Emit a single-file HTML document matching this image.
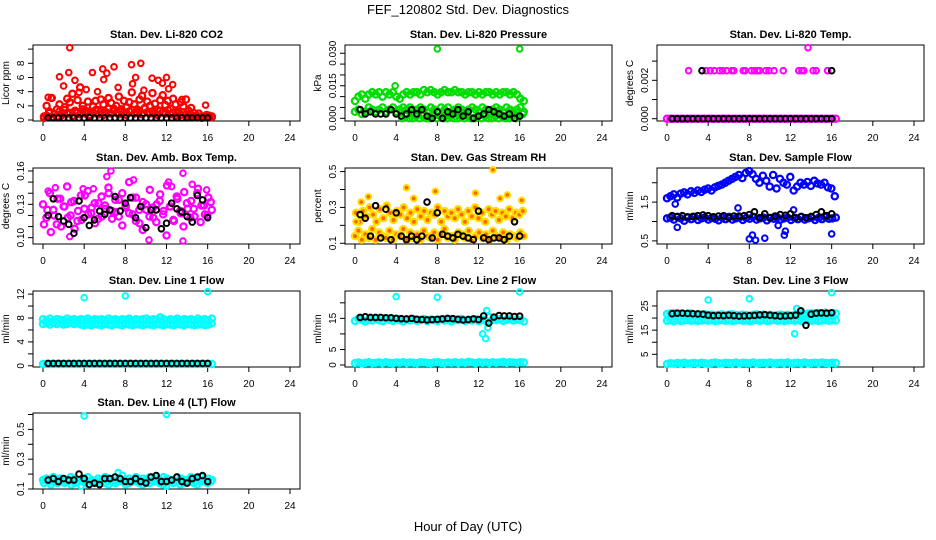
<!DOCTYPE html>
<html><head><meta charset="utf-8"><style>
body{margin:0;background:#fff;}
svg{display:block;font-family:"Liberation Sans",Arial,sans-serif;}
</style></head><body>
<svg id="chart" width="936" height="540" viewBox="0 0 936 540">
<text x="468" y="14" text-anchor="middle" font-size="13">FEF_120802  Std. Dev. Diagnostics</text>
<text x="468" y="531" text-anchor="middle" font-size="13">Hour of Day (UTC)</text>
</svg>
<script>
const xTicks = [0,4,8,12,16,20,24];

const co2Red = [0.5,2.0,1.2,3.1,0.8,1.5,2.2,0.9,1.8,3.0,2.5,3.7,1.1,2.8,4.6,2.0,1.3,2.6,0.7,1.9,2.7,1.4,2.9,2.2,1.0,3.1,2.4,1.6,2.0,3.3,1.2,2.7,1.8,2.5,3.9,2.2,1.5,2.9,3.4,1.7,2.6,2.0,3.8,2.3,1.4,2.8,3.5,2.1,2.7,1.6,3.0,2.2,1.2,2.5,1.9,2.9,1.3,1.7,1.0,0.6,0.9,0.5,0.4,0.7,0.6,0.5];
const co2Red2 = [0.3,0.6,1.0,0.4,0.8,0.5,1.2,0.7,1.4,0.9,1.0,0.6,1.3,1.1,0.8,1.5,0.9,1.2,0.6,1.0,1.4,0.8,1.2,0.7,1.1,1.6,0.9,1.3,1.0,0.8,1.5,1.1,0.7,1.2,1.4,0.9,1.0,1.3,0.8,1.6,1.1,0.9,1.2,1.0,0.7,1.3,1.1,0.9,1.4,0.8,1.0,0.6,0.9,0.7,1.1,0.8,0.5,0.7,0.4,0.6,0.5,0.3,0.4,0.6,0.5,0.4];
const co2OutT = [2.6,1.6,2.5,3.1,4.8,5.8,5.9,6.2,6.9,8.6,9.5,9.0,10.6,11.2,12.0,12.6,15.8,7.3,9.8,2.0,3.5,4.2,5.3,8.7,11.6,13.5,0.5,0.8,12.2];
const co2OutV = [10.2,6.1,6.7,5.6,6.7,7.2,5.7,6.6,7.5,7.8,8.0,6.0,5.9,5.6,6.0,5.0,2.1,4.6,4.2,4.8,3.9,4.3,4.0,5.1,5.2,2.9,3.2,3.1,4.4];
const co2Black = [0.3,0.3,0.3,0.3,0.3,0.3,0.3,0.3,0.35,0.3,0.3,0.3,0.3,0.3,0.3,0.3,0.3,0.3,0.3,0.3,0.3,0.3,0.3,0.3,0.3,0.3,0.3,0.3,0.3,0.3,0.3,0.3];

const presUp = [0.008,0.010,0.011,0.009,0.011,0.012,0.011,0.012,0.010,0.012,0.011,0.012,0.010,0.009,0.011,0.012,0.011,0.012,0.012,0.011,0.013,0.012,0.013,0.012,0.011,0.012,0.013,0.012,0.012,0.013,0.012,0.012,0.011,0.012,0.012,0.011,0.012,0.011,0.012,0.012,0.011,0.012,0.011,0.012,0.012,0.011,0.012,0.011,0.009,0.008];
const presMid = [0.003,0.004,0.002,0.003,0.005,0.004,0.003,0.004,0.005,0.003,0.004,0.005,0.003,0.004,0.005,0.004,0.005,0.003,0.004,0.005,0.004,0.003,0.005,0.004,0.003,0.005,0.004,0.005,0.003,0.004,0.005,0.004,0.003,0.004,0.005,0.004,0.003,0.005,0.004,0.003,0.004,0.005,0.004,0.003,0.005,0.004,0.003,0.004,0.005,0.003];
const presLow = [0.000,0.001,0.000,0.000,0.001,0.000,0.001,0.000,0.000,0.001,0.000,0.001,0.000,0.000,0.001,0.000,0.000,0.001,0.000,0.001,0.000,0.000,0.001,0.000,0.001,0.000,0.000,0.001,0.000,0.001,0.000,0.000,0.001,0.000,0.001,0.002];
const presOutT = [8.0,16.0,3.9];
const presOutV = [0.032,0.032,0.015];
const presBlack = [0.004,0.002,0.003,0.002,0.002,0.002,0.004,0.002,0.001,0.002,0.004,0.002,0.004,0.001,0.000,0.003,0.000,0.003,0.002,0.004,0.001,0.003,0.000,0.001,0.002,0.004,0.003,0.002,0.001,0.002,0.000,0.001];

const tempZero = [0,0,0,0,0,0,0,0,0,0,0,0,0,0,0,0,0,0,0,0,0,0,0,0,0,0,0,0,0,0,0,0,0,0,0,0,0,0,0,0,0,0,0,0,0,0,0,0,0,0];
const tempHiT = [2.1,3.8,4.2,4.6,5.1,5.4,5.8,6.3,6.5,7.4,7.6,8.2,8.5,8.8,9.0,9.6,9.9,10.4,11.3,12.8,13.1,13.3,14.2,14.5,15.6,13.7];
const tempHiV = [0.0025,0.0025,0.0025,0.0025,0.0025,0.0025,0.0025,0.0025,0.0025,0.0025,0.0025,0.0025,0.0025,0.0025,0.0025,0.0025,0.0025,0.0025,0.0025,0.0025,0.0025,0.0025,0.0025,0.0025,0.0025,0.0037];
const tempBlack = [0,0,0,0,0,0,0,0,0,0,0,0,0,0,0,0,0,0,0,0,0,0,0,0,0,0,0,0,0,0,0,0];
const tempBlackHiT = [3.4,16.0];
const tempBlackHiV = [0.0025,0.0025];

const ambA = [0.130,0.118,0.140,0.125,0.112,0.135,0.128,0.146,0.120,0.133,0.115,0.138,0.126,0.142,0.122,0.131,0.117,0.137,0.129,0.145,0.124,0.134,0.119,0.140,0.127,0.150,0.121,0.136,0.113,0.132,0.125,0.143,0.118,0.130,0.139,0.124,0.147,0.128,0.115,0.135,0.122,0.141,0.126,0.133,0.119,0.144,0.129,0.121,0.136,0.125];
const ambB = [0.112,0.125,0.105,0.120,0.135,0.110,0.128,0.118,0.132,0.108,0.124,0.116,0.138,0.121,0.127,0.113,0.131,0.119,0.126,0.140,0.117,0.123,0.134,0.111,0.129,0.122,0.136,0.115,0.125,0.107,0.130,0.119,0.127,0.114,0.133,0.121,0.102,0.128,0.116,0.137,0.124,0.110,0.131,0.118,0.126,0.140,0.114,0.129,0.120,0.132];
const ambOutT = [0.5,1.2,2.6,6.2,6.6,8.8,10.3,12.2,13.6,13.6,14.5,15.9,12.5,3.9,4.9];
const ambOutV = [0.142,0.145,0.101,0.155,0.160,0.152,0.098,0.150,0.158,0.097,0.148,0.143,0.146,0.144,0.144];
const ambBlack = [0.120,0.135,0.119,0.115,0.112,0.104,0.133,0.118,0.111,0.116,0.124,0.121,0.125,0.137,0.124,0.131,0.136,0.118,0.128,0.109,0.125,0.125,0.108,0.113,0.131,0.126,0.123,0.119,0.114,0.138,0.134,0.118];

const rhUp = [0.27,0.22,0.28,0.25,0.30,0.26,0.22,0.29,0.24,0.31,0.27,0.23,0.28,0.26,0.30,0.24,0.27,0.22,0.29,0.25,0.28,0.23,0.27,0.26,0.30,0.22,0.28,0.25,0.27,0.24,0.29,0.26,0.22,0.28,0.25,0.30,0.24,0.27,0.22,0.29,0.26,0.28,0.23,0.27,0.25,0.29,0.24,0.27,0.26,0.28];
const rhLow = [0.14,0.17,0.12,0.15,0.13,0.18,0.12,0.16,0.14,0.13,0.17,0.12,0.15,0.14,0.18,0.12,0.16,0.13,0.15,0.12,0.17,0.14,0.13,0.16,0.12,0.15,0.18,0.13,0.14,0.12,0.16,0.15,0.13,0.17,0.12,0.14,0.16,0.13,0.15,0.12,0.17,0.14,0.13,0.16,0.12,0.15,0.14,0.13,0.16,0.14];
const rhOutT = [0.1,0.6,1.3,5.0,5.7,7.8,13.4,14.8,16.2,11.7,14.1];
const rhOutV = [0.22,0.33,0.36,0.41,0.35,0.39,0.51,0.37,0.34,0.38,0.35];
const rhBlack = [0.26,0.24,0.14,0.31,0.13,0.29,0.12,0.27,0.14,0.12,0.14,0.12,0.14,0.33,0.13,0.27,0.15,0.14,0.13,0.15,0.14,0.13,0.12,0.28,0.13,0.12,0.13,0.13,0.12,0.14,0.22,0.14];

const sfUp = [1.60,1.65,1.70,1.62,1.72,1.75,1.70,1.78,1.74,1.80,1.76,1.82,1.85,1.80,1.88,1.92,1.95,2.00,2.05,2.10,2.15,2.20,2.12,2.25,2.30,2.22,2.10,2.00,2.18,2.05,1.90,2.20,1.85,2.10,2.00,1.95,2.15,1.80,1.90,2.00,1.95,2.02,1.92,2.05,1.98,1.95,2.00,1.88,1.85,1.65];
const sfLow = [1.08,1.10,1.05,1.12,1.08,1.02,1.10,1.06,1.12,1.04,1.08,1.10,1.05,1.09,1.07,1.03,1.10,1.06,1.12,1.05,1.08,1.10,1.04,1.09,1.07,1.12,1.05,1.08,1.10,1.03,1.09,1.07,1.11,1.05,1.08,1.10,1.04,1.09,1.06,1.12,1.05,1.08,1.10,1.04,1.09,1.06,1.11,1.07,1.08,1.10];
const sfOutT = [8.0,8.3,8.6,9.5,11.4,11.5,16.0,1.0,0.8,12.3,10.8,6.9];
const sfOutV = [0.55,0.65,0.52,0.57,0.65,0.75,0.68,0.85,1.45,1.30,0.90,1.35];
const sfBlack = [1.15,1.12,1.15,1.12,1.13,1.15,1.17,1.15,1.12,1.14,1.15,1.10,1.14,1.14,1.15,1.18,1.25,1.10,1.20,1.10,1.14,1.18,1.16,1.20,1.10,1.12,1.10,1.13,1.18,1.25,1.15,1.20];

const l1Up = [7.8,7.6,7.9,7.5,7.8,7.7,7.6,7.9,7.7,7.8,7.6,7.8,7.7,7.9,7.6,7.8,7.7,7.8,7.6,7.9,7.7,7.8,7.6,7.8,7.7,7.9,7.6,7.8,7.7,7.8,7.9,7.6,7.8,7.7,8.1,7.8,7.6,7.8,7.7,7.9,7.6,7.8,7.7,7.8,7.6,7.9,7.7,7.8,7.6,7.9];
const l1Low = [7.0,7.1,6.9,7.2,7.0,7.1,6.9,7.0,7.2,7.0,7.1,6.9,6.8,6.9,6.8,7.0,6.9,6.8,7.0,6.9,6.8,7.0,6.9,6.8,7.0,6.9,6.8,7.0,6.9,6.8,7.0,6.9,6.8,7.0,6.9,6.8,7.0,6.9,6.8,7.0,6.9,6.8,7.0,6.9,6.8,6.9,7.0,6.8,6.9,7.1];
const l1Zero = [0.3,0.3,0.3,0.3,0.3,0.3,0.3,0.3,0.3,0.3,0.3,0.3,0.3,0.3,0.3,0.3,0.3,0.3,0.3,0.3,0.3,0.3,0.3,0.3,0.3,0.3,0.3,0.3,0.3,0.3,0.3,0.3,0.3,0.3,0.3,0.3,0.3,0.3,0.3,0.3,0.3,0.3,0.3,0.3,0.3,0.3,0.3,0.3,0.3,0.3];
const l1OutT = [4.0,8.0,16.0];
const l1OutV = [11.4,11.7,12.4];
const l1Black = [0.4,0.4,0.4,0.4,0.4,0.4,0.4,0.4,0.4,0.4,0.4,0.4,0.4,0.4,0.4,0.4,0.4,0.4,0.4,0.4,0.4,0.4,0.4,0.4,0.4,0.4,0.4,0.4,0.4,0.4,0.4,0.4];

const l2Up = [14.2,14.8,14.5,14.0,14.6,14.3,14.9,14.4,14.1,14.7,14.5,14.2,14.8,14.4,14.0,14.6,14.3,14.7,14.2,14.5,14.8,14.1,14.6,14.4,14.2,14.7,14.3,14.5,14.0,14.6,14.4,14.8,14.2,14.5,14.3,14.7,14.1,14.6,14.2,15.5,14.6,14.4,14.7,14.2,14.5,14.8,14.3,14.6,14.4,14.0];
const l2Zero = [0.6,0.8,0.5,0.7,0.9,0.6,0.7,0.8,0.6,0.9,0.7,0.6,0.8,0.7,0.9,0.6,0.8,0.7,0.6,0.9,0.8,0.7,0.6,0.8,0.9,0.7,0.6,0.8,0.7,0.9,0.6,0.8,0.7,1.0,0.8,0.6,0.9,0.7,0.8,0.6,0.9,0.7,0.8,1.0,0.7,0.9,0.8,0.7,0.9,0.8];
const l2OutT = [4.0,8.0,16.0,12.4,12.7,12.9,13.1,12.8];
const l2OutV = [22.0,21.8,23.5,10.0,8.5,12.0,14.0,17.5];
const l2Black = [15.3,15.5,15.3,15.3,15.3,15.2,15.2,15.0,14.9,14.8,15.0,14.7,14.6,14.5,14.6,14.7,14.8,15.0,14.9,14.7,14.5,14.6,14.8,14.6,15.8,13.5,15.4,15.9,15.8,15.8,15.6,15.7];

const l3Up = [21.7,21.9,22.0,21.6,21.8,21.5,21.7,21.9,21.4,21.6,21.3,21.5,21.2,21.4,21.1,21.3,21.5,21.2,21.4,21.6,21.3,21.1,21.4,21.2,21.0,21.3,21.5,21.2,21.4,21.1,21.3,21.0,21.2,21.4,21.1,21.3,21.0,21.2,21.5,21.7,21.4,21.9,22.0,21.8,22.1,21.9,22.2,21.8,22.0,21.9];
const l3Mid = [18.9,19.1,18.7,19.2,18.8,19.0,19.2,18.9,19.1,18.8,19.0,19.2,18.9,19.1,18.8,19.0,19.2,18.9,19.1,18.8,19.0,19.2,18.9,19.1,18.8,19.0,19.2,18.9,19.1,18.8,19.0,19.2,18.9,19.1,18.8,19.0,19.2,18.9,19.1,18.8,19.0,19.2,18.9,19.1,18.8,19.0,19.2,18.9,19.1,19.0];
const l3Zero = [1.0,1.3,1.1,1.4,1.2,1.5,1.1,1.3,1.4,1.2,1.5,1.3,1.1,1.4,1.6,1.3,1.2,1.5,1.4,1.3,1.6,1.2,1.5,1.4,1.3,1.6,1.2,1.4,1.5,1.3,1.6,1.2,1.4,1.5,1.3,1.6,1.2,1.4,1.5,1.3,1.6,1.2,1.4,1.5,1.3,1.6,1.4,1.3,1.5,1.4];
const l3OutT = [4.0,8.0,16.0,12.4,12.6,12.9];
const l3OutV = [27.5,28.0,30.5,13.5,24.0,22.0];
const l3Black = [21.8,22.0,22.0,21.9,21.8,21.7,21.6,21.2,21.0,21.1,21.0,21.2,21.0,20.8,20.9,21.0,21.1,21.3,21.4,21.2,21.0,20.8,20.9,21.0,21.2,23.0,17.0,21.6,22.0,22.1,22.0,22.2];

const l4Up = [0.16,0.17,0.15,0.18,0.16,0.17,0.15,0.16,0.18,0.17,0.15,0.16,0.17,0.18,0.16,0.15,0.17,0.16,0.18,0.17,0.16,0.15,0.17,0.19,0.16,0.17,0.15,0.18,0.16,0.17,0.16,0.18,0.15,0.17,0.16,0.18,0.17,0.15,0.16,0.18,0.17,0.16,0.15,0.18,0.17,0.16,0.18,0.15,0.17,0.16];
const l4Low = [0.14,0.15,0.13,0.15,0.14,0.16,0.14,0.15,0.13,0.14,0.15,0.16,0.14,0.13,0.15,0.14,0.15,0.16,0.14,0.13,0.15,0.14,0.16,0.15,0.13,0.14,0.16,0.15,0.14,0.13,0.15,0.14,0.16,0.15,0.14,0.13,0.15,0.16,0.14,0.15,0.13,0.14,0.16,0.15,0.14,0.13,0.15,0.16,0.14,0.15];
const l4OutT = [4.0,12.0,3.7,7.3,12.0];
const l4OutV = [0.59,0.60,0.12,0.21,0.12];
const l4Black = [0.16,0.17,0.15,0.17,0.16,0.16,0.20,0.17,0.13,0.14,0.13,0.17,0.17,0.18,0.17,0.15,0.15,0.17,0.15,0.14,0.18,0.19,0.15,0.15,0.16,0.18,0.15,0.14,0.17,0.18,0.19,0.15];

const NS = "http://www.w3.org/2000/svg";
const svg = document.getElementById('chart');
const colL = [33, 345, 657], colW = 267;
const rowT = [45, 168, 291, 413], rowH = 76;

function mk(tag, attrs, parent){
  const e = document.createElementNS(NS, tag);
  for (const k in attrs) e.setAttribute(k, attrs[k]);
  (parent||svg).appendChild(e);
  return e;
}

const panels = [
 {name:'co2', title:'Stan. Dev. Li-820 CO2', ylab:'Licor ppm', c:0, r:0, lo:-0.14, hi:10.58, ticks:[0,2,4,6,8,10], labels:[0,2,4,6,8], fmt:v=>String(v),
  series:[{v:co2Red2,t0:0.1,t1:16.4,col:'#ff0000',band:1},{v:co2Red,t0:0.1,t1:16.4,col:'#ff0000',band:1},{v:co2OutV,t:co2OutT,col:'#ff0000'},{v:co2Black,t0:0.5,t1:16,col:'#000'}]},
 {name:'pressure', title:'Stan. Dev. Li-820 Pressure', ylab:'kPa', c:1, r:0, lo:-0.00125, hi:0.0338, ticks:[0,0.005,0.01,0.015,0.02,0.025,0.03], labels:[0,0.015,0.03], fmt:v=>v.toFixed(3),
  series:[{v:presUp,t0:0,t1:16.4,col:'#00dd00',band:1},{v:presMid,t0:0,t1:16.4,col:'#00dd00',band:1},{v:presLow,t0:4.6,t1:16.3,col:'#00dd00',band:1},{v:presOutV,t:presOutT,col:'#00dd00'},{v:presBlack,t0:0.5,t1:16,col:'#000'}]},
 {name:'li820-temp', title:'Stan. Dev. Li-820 Temp.', ylab:'degrees C', c:2, r:0, lo:-0.00012, hi:0.00384, ticks:[0,0.001,0.002,0.003], labels:[0,0.002], fmt:v=>v.toFixed(3),
  series:[{v:tempZero,t0:0,t1:16.4,col:'#ff00ff',band:1},{v:tempHiV,t:tempHiT,col:'#ff00ff'},{v:tempBlack,t0:0.5,t1:16,col:'#000'},{v:tempBlackHiV,t:tempBlackHiT,col:'#000'}]},
 {name:'amb-box-temp', title:'Stan. Dev. Amb. Box Temp.', ylab:'degrees C', c:0, r:1, lo:0.0943, hi:0.1627, ticks:[0.10,0.11,0.12,0.13,0.14,0.15,0.16], labels:[0.10,0.13,0.16], fmt:v=>v.toFixed(2),
  series:[{v:ambA,t0:0,t1:16.4,col:'#ff00ff',band:1},{v:ambB,t0:0.1,t1:16.3,col:'#ff00ff',band:1},{v:ambOutV,t:ambOutT,col:'#ff00ff'},{v:ambBlack,t0:0.5,t1:16,col:'#000'}]},
 {name:'gas-stream-rh', title:'Stan. Dev. Gas Stream RH', ylab:'percent', c:1, r:1, lo:0.096, hi:0.52, ticks:[0.1,0.2,0.3,0.4,0.5], labels:[0.1,0.3,0.5], fmt:v=>v.toFixed(1), rh:true,
  series:[{v:rhUp,t0:0.1,t1:16.3,col:'#ffdd00',band:1},{v:rhLow,t0:0,t1:16.4,col:'#ffdd00',band:1},{v:rhOutV,t:rhOutT,col:'#ffdd00'},{v:rhBlack,t0:0.5,t1:16,col:'#000'}]},
 {name:'sample-flow', title:'Stan. Dev. Sample Flow', ylab:'ml/min', c:2, r:1, lo:0.42, hi:2.38, ticks:[0.5,1.0,1.5,2.0], labels:[0.5,1.5], fmt:v=>v.toFixed(1),
  series:[{v:sfUp,t0:0,t1:16.3,col:'#0000ff',band:1},{v:sfLow,t0:0,t1:16.4,col:'#0000ff',band:1},{v:sfOutV,t:sfOutT,col:'#0000ff'},{v:sfBlack,t0:0.5,t1:16,col:'#000'}]},
 {name:'line1-flow', title:'Stan. Dev. Line 1 Flow', ylab:'ml/min', c:0, r:2, lo:-0.2, hi:12.52, ticks:[0,2,4,6,8,10,12], labels:[0,4,8,12], fmt:v=>String(v),
  series:[{v:l1Up,t0:0,t1:16.4,col:'#00ffff',band:1},{v:l1Low,t0:0,t1:16.4,col:'#00ffff',band:1},{v:l1Zero,t0:0,t1:16.4,col:'#00ffff',band:1},{v:l1OutV,t:l1OutT,col:'#00ffff'},{v:l1Black,t0:0.5,t1:16,col:'#000'}]},
 {name:'line2-flow', title:'Stan. Dev. Line 2 Flow', ylab:'ml/min', c:1, r:2, lo:-0.64, hi:23.8, ticks:[0,5,10,15,20], labels:[0,5,15], fmt:v=>String(v),
  series:[{v:l2Up,t0:0,t1:16.4,col:'#00ffff',band:1},{v:l2Zero,t0:0,t1:16.4,col:'#00ffff',band:1},{v:l2OutV,t:l2OutT,col:'#00ffff'},{v:l2Black,t0:0.5,t1:16,col:'#000'}]},
 {name:'line3-flow', title:'Stan. Dev. Line 3 Flow', ylab:'ml/min', c:2, r:2, lo:-0.26, hi:31.2, ticks:[5,10,15,20,25], labels:[5,15,25], fmt:v=>String(v),
  series:[{v:l3Mid,t0:0,t1:16.4,col:'#00ffff',band:1},{v:l3Up,t0:0,t1:16.4,col:'#00ffff',band:1},{v:l3Zero,t0:0,t1:16.4,col:'#00ffff',band:1},{v:l3OutV,t:l3OutT,col:'#00ffff'},{v:l3Black,t0:0.5,t1:16,col:'#000'}]},
 {name:'line4-flow', title:'Stan. Dev. Line 4 (LT) Flow', ylab:'ml/min', c:0, r:3, lo:0.1, hi:0.61, ticks:[0.1,0.2,0.3,0.4,0.5,0.6], labels:[0.1,0.3,0.5], fmt:v=>v.toFixed(1),
  series:[{v:l4Up,t0:0,t1:16.4,col:'#00ffff',band:1},{v:l4Low,t0:0.1,t1:16.3,col:'#00ffff',band:1},{v:l4OutV,t:l4OutT,col:'#00ffff'},{v:l4Black,t0:0.5,t1:16,col:'#000'}]}
];

panels.forEach(p => {
  const L = colL[p.c], T = rowT[p.r], B = T + rowH;
  const xs = h => L + 10 + h * (247/24);
  const ys = v => B - (v - p.lo) / (p.hi - p.lo) * rowH;
  const g = mk('g', {});
  
  
  const tt = mk('text', {x: L + colW/2, y: T - 7, 'text-anchor':'middle', 'font-size':'11', 'font-weight':'bold'}, g);
  tt.textContent = p.title;
  
  
  const box = mk('rect', {x:L, y:T, width:colW, height:rowH, fill:'none', stroke:'#000', 'stroke-width':'1'}, g);
  
  
  const xa = mk('g', {}, g);
  
  
  mk('line', {x1:xs(xTicks[0]), x2:xs(xTicks[xTicks.length-1]), y1:B, y2:B, stroke:'#000'}, xa);
  xTicks.forEach(h => {
    mk('line', {x1:xs(h), x2:xs(h), y1:B, y2:B+5, stroke:'#000'}, xa);
    const t = mk('text', {x:xs(h), y:B+20, 'text-anchor':'middle', 'font-size':'10'}, xa);
    t.textContent = h;
  });
  const ya = mk('g', {}, g);
  
  
  mk('line', {x1:L, x2:L, y1:ys(p.ticks[0]), y2:ys(p.ticks[p.ticks.length-1]), stroke:'#000'}, ya);
  p.ticks.forEach(v => mk('line', {x1:L-5, x2:L, y1:ys(v), y2:ys(v), stroke:'#000'}, ya));
  p.labels.forEach(v => {
    const yy = ys(v), xx = L - 9;
    const t = mk('text', {x:xx, y:yy, 'text-anchor':'middle', 'font-size':'10', transform:`rotate(-90 ${xx} ${yy})`}, ya);
    t.textContent = p.fmt(v);
  });
  const yl = mk('text', {x:L-24, y:T+rowH/2, 'text-anchor':'middle', 'font-size':'10', transform:`rotate(-90 ${L-24} ${T+rowH/2})`}, g);
  yl.textContent = p.ylab;
  
  
  p.series.forEach((s, si) => {
    const sg = mk('g', {}, g);
    
    
    const n = s.v.length;
    const rad = s.band ? 3.1 : 2.8, sw = s.band ? 2.3 : 2.0;
    s.v.forEach((v, i) => {
      const h = s.t ? s.t[i] : (n > 1 ? s.t0 + (s.t1 - s.t0) * i / (n - 1) : s.t0);
      const fill = p.rh && s.col !== '#000' ? '#ff6600' : 'none';
      const c = mk('circle', {cx:xs(h), cy:ys(v), r:rad, fill:fill, stroke:s.col, 'stroke-width':sw}, sg);
      
      
    });
  });
});
</script>
</body></html>
